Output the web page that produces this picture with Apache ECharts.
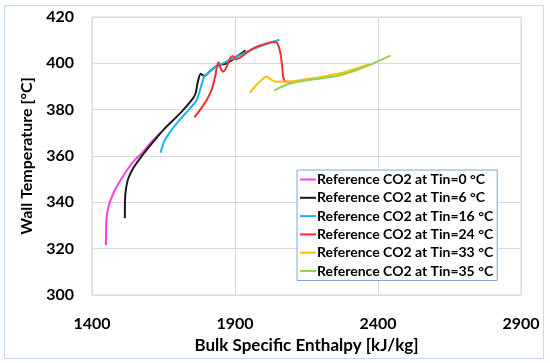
<!DOCTYPE html>
<html><head><meta charset="utf-8">
<script src="https://cdn.jsdelivr.net/npm/echarts@6/dist/echarts.min.js"></script>
<style>html,body{margin:0;padding:0;background:#fff}#c{width:550px;height:363px}</style>
</head><body><div id="c"></div>
<script>
const seriesNames = ['Reference CO2 at Tin=0 °C','Reference CO2 at Tin=6 °C','Reference CO2 at Tin=16 °C','Reference CO2 at Tin=24 °C','Reference CO2 at Tin=33 °C','Reference CO2 at Tin=35 °C'];
const colors = ['#ff40e0','#1a1a1a','#1fb4ee','#ff2a2a','#ffc000','#92d050'];
const xTicks = [1400, 1900, 2400, 2900];
const yTicks = [300, 320, 340, 360, 380, 400, 420];

const h0 = [1449, 1449.5, 1453, 1463, 1480, 1504, 1527, 1550, 1579, 1600, 1640];
const t0 = [321.6, 329.5, 335.3, 340.3, 345.3, 350.4, 354.7, 358.3, 361.9, 365, 370];

const h6 = [1515, 1515.5, 1519, 1527, 1544, 1568, 1591, 1649, 1708, 1749, 1762, 1770, 1780, 1786, 1792, 1812, 1836, 1871, 1906, 1937];
const t6 = [333.1, 341, 346, 350.4, 354.7, 359, 362.6, 371.2, 378.4, 384.2, 387, 392, 395.5, 395, 394.5, 396.6, 398.9, 400, 402.9, 405.6];

const h16 = [1640, 1655, 1696, 1743, 1766, 1783, 1792, 1801, 1824, 1850, 1900, 1950, 1987, 2022, 2055];
const t16 = [361.4, 366.9, 374.1, 380.6, 384.2, 390.7, 394.2, 395.4, 397.8, 399.5, 402.5, 405.5, 407.2, 408.9, 410.2];

const h24 = [1758, 1778, 1801, 1818, 1830, 1842, 1850, 1859, 1871, 1883, 1892, 1903, 1917, 1964, 2011, 2040, 2051, 2060, 2065, 2069, 2078, 2100];
const t24 = [376.7, 379.9, 384.2, 388.5, 394, 400.5, 397.8, 396.4, 398.6, 402.2, 403.2, 401.7, 402.4, 406.5, 408.6, 409.2, 407.9, 403.6, 398.6, 394, 392.1, 392.1];

const h33 = [1952, 1981, 2011, 2028, 2046, 2081, 2127, 2197, 2267, 2325, 2370];
const t33 = [387.3, 391.4, 394.2, 392.8, 392, 392, 392.7, 394, 395.7, 397.8, 399.7];

const h35 = [2037, 2069, 2104, 2174, 2256, 2325, 2384, 2444];
const t35 = [388.2, 390.2, 391.6, 393.1, 394.5, 397.1, 400, 403.3];

const hs = [h0, h6, h16, h24, h33, h35];
const ts = [t0, t6, t16, t24, t33, t35];

const FONT = 'Lato';
const chart = echarts.init(document.getElementById('c'), null, {renderer: 'canvas'});
chart.setOption({
  animation: false,
  backgroundColor: '#ffffff',
  textStyle: {fontFamily: FONT},
  grid: {left: 92, right: 29, top: 17, bottom: 68, show: true, borderColor: '#d9d9d9', borderWidth: 1},
  xAxis: {
    type: 'value', min: xTicks[0], max: xTicks[xTicks.length-1], interval: 500,
    name: 'Bulk Specific Enthalpy [kJ/kg]', nameLocation: 'middle', nameGap: 42,
    nameTextStyle: {fontFamily: FONT, fontWeight: 'bold', fontSize: 17, color: '#000'},
    axisLine: {show: false}, axisTick: {show: false},
    axisLabel: {fontFamily: FONT, fontWeight: 'bold', fontSize: 16, color: '#000', margin: 21, formatter: v => String(v)},
    splitLine: {show: true, lineStyle: {color: '#d9d9d9', width: 1}}
  },
  yAxis: {
    type: 'value', min: yTicks[0], max: yTicks[yTicks.length-1], interval: 20,
    name: 'Wall Temperature [°C]', nameLocation: 'middle', nameGap: 56, nameRotate: 90,
    nameTextStyle: {fontFamily: FONT, fontWeight: 'bold', fontSize: 16, color: '#000'},
    axisLine: {show: false}, axisTick: {show: false},
    axisLabel: {fontFamily: FONT, fontWeight: 'bold', fontSize: 16, color: '#000', margin: 18, formatter: v => String(v)},
    splitLine: {show: true, lineStyle: {color: '#d9d9d9', width: 1}}
  },
  legend: {
    orient: 'vertical', left: 297, top: 170,
    data: seriesNames,
    icon: 'rect', itemWidth: 16, itemHeight: 2, itemGap: 1.3,
    padding: [1, 4, 1, 3],
    borderColor: '#7ea6d8', borderWidth: 1, backgroundColor: '#ffffff',
    textStyle: {fontFamily: FONT, fontWeight: 'bold', fontSize: 14, lineHeight: 17, color: '#000', padding: [0,0,0,-4]}
  },
  graphic: [{type: 'rect', shape: {x: 4.5, y: 5.5, width: 539, height: 353}, style: {fill: 'none', stroke: '#c5d9f1', lineWidth: 1}, silent: true, z: -1}],
  series: seriesNames.map((n, i) => ({
    name: n, type: 'line', showSymbol: false, symbol: 'none',
    smooth: 0.3,
    color: colors[i],
    lineStyle: {color: colors[i], width: 2},
    data: hs[i].map((h, k) => [h, ts[i][k]])
  }))
});
</script></body></html>
